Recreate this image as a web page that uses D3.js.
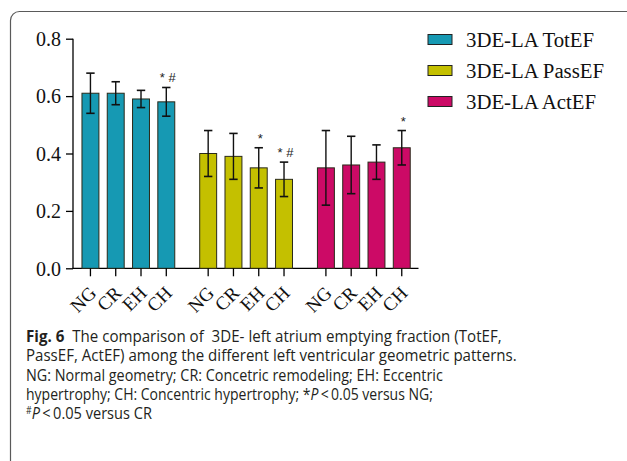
<!DOCTYPE html>
<html>
<head>
<meta charset="utf-8">
<script src="https://cdn.jsdelivr.net/npm/d3@7"></script>
<style>
  body { margin: 0; background: #fff; }
  svg { display: block; }
  .tick-label { font-family: "Liberation Serif", "Times New Roman", serif; }
  .caption { font-family: "Open Sans", "Noto Sans", sans-serif; fill: #231f20; }
</style>
</head>
<body>
<svg id="chart" width="627" height="461"></svg>
<script>
// categories + series
const groups = ["NG", "CR", "EH", "CH"]
const series = ["3DE-LA TotEF", "3DE-LA PassEF", "3DE-LA ActEF"]
const colors = ["#1699b3", "#c4c000", "#cc0a66"]

// mean values
const totEF = [0.61, 0.61, 0.59, 0.58]
const passEF = [0.40, 0.39, 0.35, 0.31]
const actEF = [0.35, 0.36, 0.37, 0.42]
// error (sd)
const totErr = [0.07, 0.04, 0.03, 0.05]
const passErr = [0.08, 0.08, 0.07, 0.06]
const actErr = [0.13, 0.10, 0.06, 0.06]
// significance marks
const totSig = ["", "", "", "*\u00a0#"]
const passSig = ["", "", "*", "*\u00a0#"]
const actSig = ["", "", "", "*"]

const yTicks = [0.0, 0.2, 0.4, 0.6, 0.8]

const captionLines = [
    [{t: "Fig. 6", b: true}, {t: "\u00a0 The comparison of \u00a03DE- left atrium emptying fraction (TotEF,"}],
    [{t: "PassEF, ActEF) among the different left ventricular geometric patterns."}],
    [{t: "NG: Normal geometry; CR: Concetric remodeling; EH: Eccentric"}],
    [{t: "hypertrophy; CH: Concentric hypertrophy; *"}, {t: "P", i: true}, {t: "\u2009<\u20090.05 versus NG;"}],
    [{t: "#", sup: true}, {t: "P", i: true}, {t: "\u2009<\u20090.05 versus CR"}]
]
// rendered width of each caption line (px)
const captionWidths = [476, 491, 417, 407, 126]

const values = [totEF, passEF, actEF]
const errs = [totErr, passErr, actErr]
const sigs = [totSig, passSig, actSig]

const svg = d3.select("#chart")

//outer frame (runs past the window on right / bottom)
svg.append("rect")
    .attr("x", 10.5).attr("y", 11.5)
    .attr("width", 640).attr("height", 480)
    .attr("rx", 9)
    .attr("fill", "none")
    .attr("stroke", "#5a5a5a")
    .attr("stroke-width", 1.2)

const y = d3.scaleLinear().domain([0, 0.8]).range([268.3, 38.7])

const x0 = d3.scaleBand().domain(d3.range(series.length))
    .range([77.8, 414.4]).paddingInner(0.141).paddingOuter(0)
const x1 = d3.scaleBand().domain(groups)
    .range([0, x0.bandwidth()]).paddingInner(0.33).paddingOuter(0.165)

// y axis
const yAxis = svg.append("g")
    .attr("transform", "translate(73,0)")
    .call(d3.axisLeft(y).tickValues(yTicks).tickFormat(d3.format(".1f")).tickSize(7).tickPadding(5))
yAxis.select(".domain").attr("stroke", "#000").attr("stroke-width", 1.3)
    .attr("d", `M0,${y(0.8)}V${y(0)}`)
yAxis.selectAll(".tick line").attr("stroke", "#000").attr("stroke-width", 1.3)
yAxis.selectAll(".tick text")
    .attr("class", "tick-label")
    .style("font-size", "20px")
    .attr("fill", "#111")
    .attr("dy", "0.34em")

// x axis baseline
svg.append("line")
    .attr("x1", 72.4).attr("x2", 418.5)
    .attr("y1", y(0)).attr("y2", y(0))
    .attr("stroke", "#000").attr("stroke-width", 1.3)

series.forEach((s, si) => {
    const g = svg.append("g").attr("transform", `translate(${x0(si)},0)`)
    const rows = groups.map((c, i) => ({c, v: values[si][i], e: errs[si][i], sig: sigs[si][i]}))

    g.selectAll("rect.bar").data(rows).join("rect")
        .attr("class", "bar")
        .attr("x", d => x1(d.c))
        .attr("width", x1.bandwidth())
        .attr("y", d => y(d.v))
        .attr("height", d => y(0) - y(d.v))
        .attr("fill", colors[si])
        .attr("stroke", "#2a2a1a")
        .attr("stroke-width", 1)

    const eb = g.selectAll("g.err").data(rows).join("g")
        .attr("class", "err")
        .attr("transform", d => `translate(${x1(d.c) + x1.bandwidth() / 2},0)`)
    eb.append("line")
        .attr("y1", d => y(d.v + d.e)).attr("y2", d => y(d.v - d.e))
        .attr("stroke", "#111").attr("stroke-width", 1.4)
    eb.append("line")
        .attr("x1", -4.2).attr("x2", 4.2)
        .attr("y1", d => y(d.v + d.e)).attr("y2", d => y(d.v + d.e))
        .attr("stroke", "#111").attr("stroke-width", 1.6)
    eb.append("line")
        .attr("x1", -4.2).attr("x2", 4.2)
        .attr("y1", d => y(d.v - d.e)).attr("y2", d => y(d.v - d.e))
        .attr("stroke", "#111").attr("stroke-width", 1.6)
    eb.filter(d => d.sig).append("text")
        .attr("x", 1.5)
        .attr("y", d => y(d.v + d.e) - 5)
        .attr("text-anchor", "middle")
        .style("font-family", "Liberation Sans, sans-serif")
        .style("font-size", "13px")
        .attr("fill", "#222")
        .text(d => d.sig)

    // x ticks and rotated labels
    eb.append("line")
        .attr("y1", y(0)).attr("y2", y(0) + 8)
        .attr("stroke", "#000").attr("stroke-width", 1.3)
    eb.append("text")
        .attr("class", "tick-label")
        .attr("transform", `translate(7,${y(0) + 26}) rotate(-45)`)
        .attr("text-anchor", "end")
        .style("font-size", "19px")
        .attr("fill", "#111")
        .text(d => d.c)
})

// legend
const legend = svg.append("g").attr("transform", "translate(428,34)")
series.forEach((s, si) => {
    const row = legend.append("g").attr("transform", `translate(0,${si * 31})`)
    row.append("rect")
        .attr("x", 0).attr("y", 0.5)
        .attr("width", 24).attr("height", 10)
        .attr("fill", colors[si])
        .attr("stroke", "#222").attr("stroke-width", 1)
    row.append("text")
        .attr("class", "tick-label")
        .attr("x", 38).attr("y", 12.5)
        .style("font-size", "20.8px")
        .attr("fill", "#111")
        .text(s)
})

// caption: each line squeezed horizontally to the reference width
const cap = svg.append("g").attr("class", "caption")
captionLines.forEach((parts, li) => {
    const t = cap.append("text")
        .attr("x", 0).attr("y", 0)
        .style("font-size", "15px")
    parts.forEach(p => {
        const sp = t.append("tspan").text(p.t)
        if (p.b) sp.style("font-weight", "bold")
        if (p.i) sp.style("font-style", "italic")
        if (p.sup) sp.style("font-size", "9px").attr("dy", -5)
        if (p.i && li == 4) sp.attr("dy", 5)
    })
    const k = captionWidths[li] / t.node().getComputedTextLength()
    t.attr("transform", `translate(26,${342 + li * 19.3}) scale(${k},1.1)`)
})
</script>
</body>
</html>
